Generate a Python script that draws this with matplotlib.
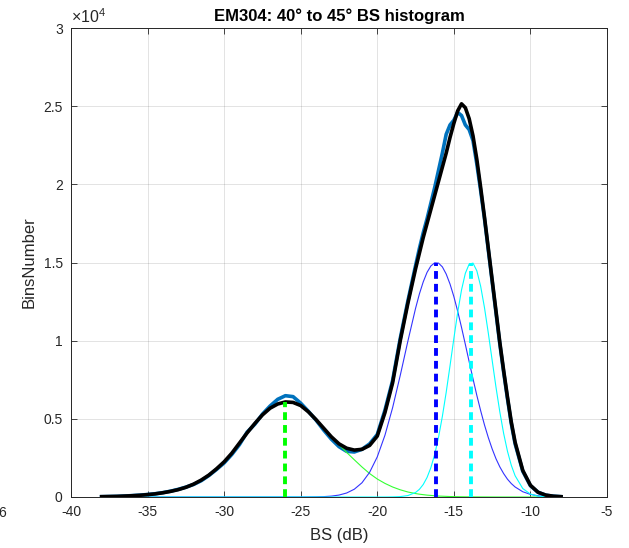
import numpy as np
import matplotlib
matplotlib.use("Agg")
import matplotlib.pyplot as plt

plt.rcParams['font.family'] = ['Liberation Sans', 'DejaVu Sans']
plt.rcParams['mathtext.fontset'] = 'custom'
plt.rcParams['mathtext.rm'] = 'Liberation Sans'
plt.rcParams['axes.unicode_minus'] = False

# BS bins (dB): finer sampling around the main peak. Counts in units of 1e4
bs = np.concatenate([np.arange(-38.0, -17.4, 0.5),
                     np.arange(-17.25, -10.9, 0.25),
                     np.arange(-10.5, -7.9, 0.5)])

hist_counts = [0.002, 0.003, 0.004, 0.006, 0.009, 0.012, 0.016, 0.021, 0.028, 0.037,
               0.049, 0.063, 0.080, 0.104, 0.137, 0.176, 0.218, 0.272, 0.335, 0.415,
               0.465, 0.530, 0.582, 0.625, 0.648, 0.642, 0.600, 0.548, 0.492, 0.428,
               0.370, 0.322, 0.292, 0.288, 0.305, 0.340, 0.400, 0.555, 0.745, 1.015,
               1.255, 1.480,
               1.59, 1.69, 1.78, 1.88, 1.98, 2.09, 2.20, 2.32, 2.38, 2.41, 2.46, 2.44, 2.38,
               2.35, 2.28, 2.13, 1.96, 1.78, 1.58, 1.38, 1.18, 0.98, 0.80, 0.63, 0.47, 0.34,
               0.165, 0.072, 0.030, 0.012, 0.005, 0.002]

fit_total = [0.002, 0.003, 0.004, 0.006, 0.008, 0.011, 0.015, 0.020, 0.027, 0.036,
             0.047, 0.062, 0.082, 0.108, 0.140, 0.180, 0.225, 0.280, 0.345, 0.410,
             0.470, 0.525, 0.568, 0.595, 0.608, 0.605, 0.585, 0.545, 0.495, 0.440,
             0.385, 0.340, 0.312, 0.300, 0.305, 0.330, 0.390, 0.540, 0.730, 1.000,
             1.240, 1.460,
             1.56, 1.66, 1.75, 1.84, 1.93, 2.02, 2.11, 2.20, 2.30, 2.39, 2.47, 2.515, 2.49,
             2.42, 2.31, 2.16, 1.98, 1.79, 1.59, 1.39, 1.19, 0.99, 0.81, 0.64, 0.48, 0.35,
             0.17, 0.075, 0.030, 0.012, 0.005, 0.002]

comp_green = [0.002, 0.003, 0.004, 0.006, 0.008, 0.011, 0.015, 0.020, 0.027, 0.036,
              0.047, 0.062, 0.082, 0.108, 0.140, 0.180, 0.225, 0.280, 0.345, 0.410,
              0.470, 0.525, 0.568, 0.595, 0.608, 0.600, 0.580, 0.545, 0.495, 0.440,
              0.385, 0.335, 0.285, 0.238, 0.192, 0.150, 0.115, 0.087, 0.064, 0.046,
              0.032, 0.022,
              0.018, 0.015, 0.012, 0.010, 0.008, 0.006, 0.005, 0.004, 0.003, 0.0025, 0.002,
              0.0015, 0.0012, 0.001, 0.0008, 0.0006, 0.0005, 0.0004, 0.0003, 0.0002, 0.0001,
              0.0001, 0, 0, 0, 0,
              0, 0, 0, 0, 0, 0]

comp_blue = [0] * 27 + [0.0004, 0.001, 0.0024, 0.0056, 0.0124, 0.0256, 0.0498, 0.091,
                        0.158, 0.257, 0.395, 0.571, 0.778, 0.998, 1.207,
                        1.299, 1.376, 1.437, 1.478, 1.498, 1.496, 1.472, 1.426, 1.362,
                        1.282, 1.188, 1.085, 0.976, 0.865, 0.756, 0.650, 0.552, 0.461,
                        0.380, 0.308, 0.245, 0.193, 0.150, 0.114, 0.086, 0.064,
                        0.0336, 0.0167, 0.0078, 0.0034, 0.0014, 0.0005]

comp_cyan = [0] * 38 + [0.0006, 0.0025, 0.0092, 0.029,
                        0.049, 0.080, 0.125, 0.188, 0.273, 0.382, 0.516, 0.670, 0.840,
                        1.014, 1.181, 1.324, 1.431, 1.490, 1.496, 1.447, 1.348, 1.211,
                        1.048, 0.875, 0.703, 0.545, 0.407, 0.293, 0.203, 0.136,
                        0.054, 0.0187, 0.0055, 0.0014, 0.0003, 0]

peak_bs = [-26.0, -16.15, -13.85]
peak_height = [0.61, 1.5, 1.5]
peak_colors = ['#00ff00', '#0000ff', '#00ffff']

fig = plt.figure(figsize=(6.29, 5.48), dpi=100)
ax = fig.add_axes([71/629, 1 - 497/548, 536/629, 469/548])

ax.plot(bs, hist_counts, color=(0, 0.447, 0.741), lw=2.6, zorder=2)
ax.plot(bs, comp_green, color='#33ff33', lw=0.8, zorder=3)
ax.plot(bs, comp_blue, color='#3333ff', lw=0.8, zorder=3)
ax.plot(bs, comp_cyan, color='#00ffff', lw=0.8, zorder=3)
ax.plot(bs, fit_total, color='black', lw=2.6, zorder=4)
for xb, h, c in zip(peak_bs, peak_height, peak_colors):
    ax.plot([xb, xb], [0, h], color=c, lw=2.8, dashes=[2.0, 1.3], zorder=5)

ax.set_xlim(-40, -5)
ax.set_ylim(0, 3)
ax.set_xticks(np.arange(-40, -4, 5))
ax.set_yticks([0, 0.5, 1, 1.5, 2, 2.5, 3])
ax.set_yticklabels(['0', '0.5', '1', '1.5', '2', '2.5', '3'])
ax.grid(True, color='#262626', alpha=0.15, lw=0.6)
ax.set_axisbelow(True)
ax.tick_params(direction='in', top=True, right=True, length=4, width=0.6,
               labelsize=10, colors='#262626', pad=6)
for s in ax.spines.values():
    s.set_color('#262626')
    s.set_linewidth(0.7)

ax.set_title('EM304: 40° to 45° BS histogram', fontsize=12, fontweight='bold', pad=5)
ax.set_xlabel('BS (dB)', fontsize=12, color='#262626', labelpad=6)
ax.set_ylabel('BinsNumber', fontsize=12, color='#262626', labelpad=5)
ax.text(0.0, 1.005, r'$\times10^{4}$', transform=ax.transAxes, fontsize=11.5,
        color='#262626', ha='left', va='bottom')
fig.text(6.5/629, 1 - 513/548, '6', fontsize=10, color='#262626', ha='right', va='center')

fig.savefig('out.png', dpi=100)
